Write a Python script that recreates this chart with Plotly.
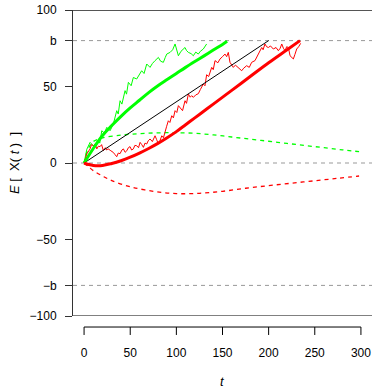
import plotly.graph_objects as go

# ---- data ----
black_t = [0, 200]
black_y = [0, 80]

green_mean_t = [0, 10, 20, 30, 40, 50, 60, 70, 80, 90, 100, 110, 120, 130, 140, 150, 155]
green_mean_y = [0, 9.5, 18, 24.5, 30.5, 36, 41, 46, 50.5, 54.5, 58.5, 62.5, 66.3, 70, 73.8, 77.5, 79.5]

red_mean_t = [0, 5, 10, 20, 30, 40, 50, 60, 70, 80, 90, 100, 110, 120, 130, 140, 160, 180, 200, 220, 234]
red_mean_y = [0, -1, -1.6, -1.6, -0.3, 1.5, 3.8, 6.5, 9.5, 12.8, 16.5, 20.5, 25, 29.5, 34, 38.5, 47.5, 56.5, 65.5, 74, 80]

green_dash_t = [0, 3, 6, 10, 20, 40, 60, 80, 100, 120, 140, 160, 180, 200, 220, 240, 260, 280, 298]
green_dash_y = [0, 7, 11, 14, 16.5, 18.2, 19.2, 19.7, 19.8, 19.4, 18.4, 17, 15.6, 14.2, 12.8, 11.4, 10, 8.6, 7.4]

red_dash_t = [0, 5, 10, 20, 30, 50, 75, 100, 125, 150, 175, 200, 225, 250, 275, 298]
red_dash_y = [0, -2.5, -5, -8.5, -11.5, -15.5, -18.5, -20, -19.8, -18.5, -16.5, -14.8, -13.2, -11.6, -10, -8.5]

green_walk_t = [0, 1, 3, 6.5, 9, 11.9, 15, 17, 19.2, 22, 24.6, 28.2, 31.7, 33.5, 35.4, 37, 39, 41, 44.4, 46, 48,
                51, 53.4, 57, 60, 62.4, 65, 67.9, 71.5, 74, 76.9, 80.5, 83, 85.9, 88, 89.6, 93.2, 96,
                98.6, 102.2, 105, 109.4, 111, 113, 116, 118.4, 121, 123.8, 126, 129.2, 132.8]
green_walk_y = [0, 3, 9, 13.5, 12, 10.2, 14.6, 13, 21.1, 19.5, 23.3, 21.1, 25.5, 29, 34.2, 32, 40.7, 38.5, 47.3, 45, 52.7,
                50.5, 55.9, 54.9, 58, 60.3, 58.5, 64.7, 62.5, 65, 66.9, 69, 66.5, 65.8, 69, 71.2, 72.3, 74,
                77.8, 70.1, 73, 75.5, 73.5, 72.3, 71.5, 70.1, 72.5, 71.2, 73, 74.5, 77.8]

red_walk_t = [0, 1, 3, 6.5, 8, 10.1, 12, 13.8, 15.5, 17.3, 19, 20.9, 23, 24.5, 26, 29, 31.7, 33.5, 35.4, 37, 39, 41,
              42.6, 44.5, 46.3, 48, 49.8, 51.5, 53.4, 55, 57, 59, 60.7, 62.5, 64.3, 66, 67.9, 69.5, 71.5, 74,
              76.9, 78.5, 80.5, 82.5, 84.2, 86, 87.7, 89.5, 91.3, 93, 95, 96.8, 98.6, 100.5, 102.2, 104, 106.7,
              109.4, 111, 113, 115, 116.6, 118.4, 121, 123.8, 126, 129.2, 131, 132.8, 135, 136.5, 138.3, 140,
              141.9, 145, 147.3, 150, 152.7, 154.5, 156.3, 158.1, 160, 161.7, 164, 166.3, 168.5, 170.8, 173,
              176.2, 179, 181.6, 185.2, 187, 188.8, 190.5, 192.5, 194, 196, 197.8, 199.7, 202, 205.1,
              208, 210.5, 212.5, 214.2, 216, 217.8, 219.5, 221.4, 223.2, 225, 226.8, 228.5, 230.4, 232.5, 234.7]
red_walk_y = [0, 2, 6, 9.2, 12, 11.3, 12.5, 9.2, 11, 10.7, 12, 8, 10, 8.5, 9.3, 8, 6.9, 5.5, 4.1, 6.5, 6.1, 8.5,
              9.2, 7, 8, 10, 10.7, 8.5, 9.2, 11.5, 11.3, 10, 13.5, 12, 10.2, 13, 12.4, 14.5, 15.7, 14,
              17.8, 15.5, 12.4, 15, 17.8, 16.5, 21.1, 24, 27.6, 26.5, 30.9, 29.5, 34.2, 33, 37.5, 36.3, 34.2,
              40.7, 39, 45.1, 43, 44, 42.9, 44.5, 45.3, 48, 51.6, 50.5, 57.7, 56.5, 60, 62.5, 61,
              66.9, 65.5, 68, 69.5, 71.2, 69.5, 72.3, 65.8, 63.5, 62.5, 64, 62.9, 61.5, 60.3, 62,
              63.6, 62.5, 65.8, 66.9, 69, 71.2, 73.5, 75.5, 74, 77.8, 76, 75.5, 76.5, 74.5,
              75.5, 73.4, 75, 77.8, 75, 73.4, 76, 75.5, 70.1, 69, 68, 71, 74.5, 76, 78.2]

x_ticks = [0, 50, 100, 150, 200, 250, 300]
y_tickvals = [100, 80, 50, 0, -50, -80, -100]
y_ticktext = ["100", "b", "50", "0", "\u221250", "\u2212b", "\u2212100"]
b_levels = [80, 0, -80]

GREEN = "#00FF00"
RED = "#FF0000"
FONT = "Liberation Sans, Arial, Helvetica, sans-serif"

fig = go.Figure()

for lv in b_levels:
    fig.add_shape(type="line", xref="paper", yref="y", x0=0, x1=1, y0=lv, y1=lv,
                  line=dict(color="#999999", width=1, dash="4px,4px"), layer="below")

fig.add_trace(go.Scatter(x=green_dash_t, y=green_dash_y, mode="lines", line=dict(color=GREEN, width=1.3, dash="4px,4px", shape="spline")))
fig.add_trace(go.Scatter(x=red_dash_t, y=red_dash_y, mode="lines", line=dict(color=RED, width=1.3, dash="4px,4px", shape="spline")))
fig.add_trace(go.Scatter(x=green_walk_t, y=green_walk_y, mode="lines", line=dict(color=GREEN, width=1)))
fig.add_trace(go.Scatter(x=red_walk_t, y=red_walk_y, mode="lines", line=dict(color=RED, width=1)))
fig.add_trace(go.Scatter(x=black_t, y=black_y, mode="lines", line=dict(color="black", width=1)))
fig.add_trace(go.Scatter(x=green_mean_t, y=green_mean_y, mode="lines", line=dict(color=GREEN, width=3, shape="spline")))
fig.add_trace(go.Scatter(x=red_mean_t, y=red_mean_y, mode="lines", line=dict(color=RED, width=3, shape="spline")))

# frame lines at y = 100 and -100
fig.add_shape(type="line", xref="paper", yref="y", x0=0, x1=1, y0=100, y1=100, line=dict(color="#555555", width=2))
fig.add_shape(type="line", xref="paper", yref="y", x0=0, x1=1, y0=-100, y1=-100, line=dict(color="black", width=1))

# detached x axis (R style)
ax_y = -0.036
tick_y = -0.062
fig.add_shape(type="line", xref="x", yref="paper", x0=x_ticks[0], x1=x_ticks[-1], y0=ax_y, y1=ax_y,
              line=dict(color="black", width=1))
for xt in x_ticks:
    fig.add_shape(type="line", xref="x", yref="paper", x0=xt, x1=xt, y0=ax_y, y1=tick_y,
                  line=dict(color="black", width=1))

fig.add_annotation(x=0.5, y=-0.215, xref="paper", yref="paper", text="<i>t</i>", showarrow=False,
                   font=dict(size=13, color="black", family=FONT), yanchor="middle")
fig.add_annotation(x=-0.197, y=0.5, xref="paper", yref="paper",
                   text="<i>E</i>&nbsp;[&nbsp;&nbsp;X(&nbsp;<i>t</i>&nbsp;)&nbsp;&nbsp;]", showarrow=False,
                   textangle=-90, font=dict(size=13, color="black", family=FONT),
                   xanchor="center", yanchor="middle")

fig.update_layout(
    width=391, height=391,
    margin=dict(l=73, r=19, t=10, b=75),
    paper_bgcolor="white", plot_bgcolor="white",
    showlegend=False,
    font=dict(family=FONT, size=12, color="black"),
    xaxis=dict(range=[-12, 312], showgrid=False, zeroline=False, showline=False, automargin=False,
               tickvals=x_ticks, ticktext=[str(v) for v in x_ticks], ticks="",
               ticklabelstandoff=28, tickfont=dict(size=12)),
    yaxis=dict(range=[-100, 100], showgrid=False, zeroline=False, showline=True, automargin=False,
               linecolor="#333333", linewidth=1, ticks="outside", ticklen=7, tickcolor="#333333",
               tickvals=y_tickvals, ticktext=y_ticktext, ticklabelstandoff=6),
)

fig.write_html("out.html", config={"displayModeBar": False},
               post_script="document.body.style.margin='0';")
